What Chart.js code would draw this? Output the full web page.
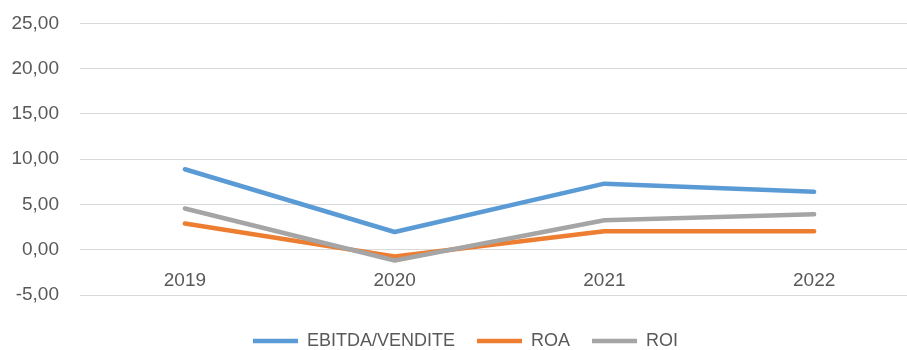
<!DOCTYPE html>
<html>
<head>
<meta charset="utf-8">
<script src="https://cdn.jsdelivr.net/npm/chart.js@4"></script>
<style>
  html, body { margin: 0; padding: 0; background: #ffffff; }
  #frame { width: 907px; height: 350px; overflow: hidden; position: relative; }
  #box { width: 919px; height: 369px; position: absolute; left: 0; top: -9px; }
</style>
</head>
<body>
<div id="frame"><div id="box"><canvas id="chart"></canvas></div></div>
<script>
// Years on the category axis
const years = ['2019', '2020', '2021', '2022'];

// Indicator values (%)
const ebitdaVendite = [8.89, 1.96, 7.30, 6.40];
const roa = [2.89, -0.74, 2.03, 2.03];
const roi = [4.56, -1.19, 3.26, 3.92];

// Value axis range
const yMin = -5;
const yMax = 25;
const yStep = 5;

const textColor = '#595959';
const gridColor = '#d9d9d9';
const fontFamily = '"Liberation Sans", Arial, sans-serif';

function series(label, data, color, order) {
  return {
    label: label,
    data: data,
    borderColor: color,
    backgroundColor: color,
    borderWidth: 4.5,
    borderCapStyle: 'round',
    borderJoinStyle: 'round',
    pointRadius: 0,
    pointHoverRadius: 0,
    tension: 0,
    fill: false,
    order: order
  };
}

new Chart(document.getElementById('chart'), {
  type: 'line',
  data: {
    labels: years,
    datasets: [
      series('EBITDA/VENDITE', ebitdaVendite, '#5B9BD5', 2),
      series('ROA', roa, '#ED7D31', 1),
      series('ROI', roi, '#A5A5A5', 0)
    ]
  },
  options: {
    responsive: true,
    maintainAspectRatio: false,
    animation: false,
    layout: { padding: { left: 12, right: 0, top: 14, bottom: 0 } },
    scales: {
      x: {
        position: { y: 0 },
        offset: true,
        grid: { display: false, drawTicks: false },
        border: { display: false },
        ticks: {
          padding: 20,
          color: textColor,
          font: { family: fontFamily, size: 19 }
        }
      },
      y: {
        min: yMin,
        max: yMax,
        grid: { color: gridColor, lineWidth: 1, drawTicks: false },
        border: { display: false },
        afterFit: function (scale) { scale.width = 68; },
        ticks: {
          stepSize: yStep,
          padding: 21,
          color: textColor,
          font: { family: fontFamily, size: 19 },
          callback: function (v) { return Number(v).toFixed(2).replace('.', ','); }
        }
      }
    },
    plugins: {
      tooltip: { enabled: false },
      legend: {
        position: 'bottom',
        title: { display: true, text: '', padding: 0, font: { size: 15, lineHeight: 1 } },
        labels: {
          usePointStyle: true,
          pointStyle: 'line',
          pointStyleWidth: 45,
          padding: 22,
          color: textColor,
          font: { family: fontFamily, size: 18 },
          sort: function (a, b) { return a.datasetIndex - b.datasetIndex; }
        }
      }
    }
  }
});
</script>
</body>
</html>
